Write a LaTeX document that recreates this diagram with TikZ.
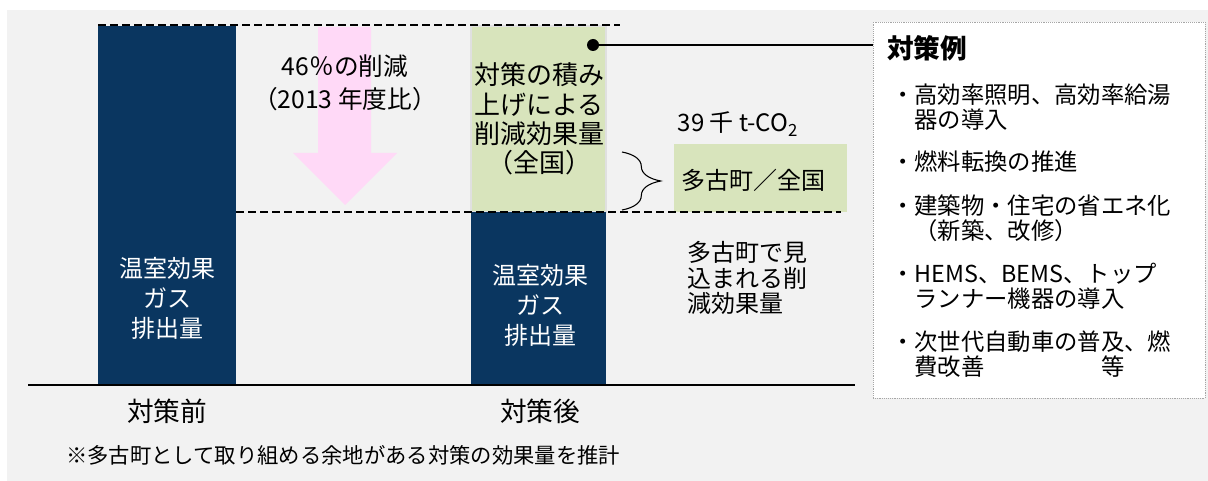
\documentclass[tikz,border=0pt]{standalone}
\usepackage{xcolor}
\usepackage{fontspec}
\setmainfont{Noto Sans CJK JP}
\usepackage{tikz}
\usetikzlibrary{calc}
\usetikzlibrary{positioning}
\usetikzlibrary{decorations.pathreplacing}
\definecolor{navy}{RGB}{10,54,96}
\definecolor{leaf}{RGB}{216,228,188}
\definecolor{blush}{RGB}{255,217,247}
\definecolor{paper}{RGB}{242,242,242}
\tikzstyle{txt} = [rectangle, draw=none, inner sep=0pt, align=center]
\tikzstyle{lefttxt} = [rectangle, draw=none, inner sep=0pt, align=left, anchor=west]
\tikzstyle{cut} = [dashed, dash pattern=on 6pt off 3pt, line width=1.6pt]
\newcommand{\fs}[2]{\fontsize{#1}{#2}\selectfont}

\begin{document}
\begin{tikzpicture}[x=0.75pt, y=-0.75pt]
\useasboundingbox (0, 0) rectangle (1208, 481);
\fill [paper] (7, 10) rectangle (1208, 481);
% bars and reduction arrow
\fill [navy] (98, 26) rectangle (236, 385);
\filldraw [fill=leaf, draw=black!12, line width=1.2pt] (471, 26) rectangle (606, 212);
\fill [navy] (471, 212) rectangle (606, 385);
\fill [blush] (318, 27) -- (371, 27) -- (371, 153) -- (397, 153) -- (345, 205)
  -- (293, 153) -- (318, 153) -- cycle;
\fill [leaf] (674, 144) rectangle (847, 212);
\draw [cut] (98, 25) -- (620, 25);
\draw [cut] (236, 212) -- (841, 212);
\draw [line width=2.2pt] (28, 385) -- (855, 385);
\node [txt, text=white, font=\fs{18}{22.5}] (G1) at (167, 298) {温室効果\\ガス\\排出量};
\node [txt, text=white, font=\fs{18}{22.5}] (G2) at (540, 305) {温室効果\\ガス\\排出量};
\node [txt, font=\fs{18.5}{24.75}] (R46) at (345, 83) {46％の削減\\（2013 年度比）};
\node [txt, font=\fs{19.5}{22}] (NAT) at (539, 119) {対策の積み\\上げによる\\削減効果量\\（全国）};
\node [txt, font=\fs{20}{24}] (PRE) at (167, 411) {対策前};
\node [txt, font=\fs{20}{24}] (POST) at (540, 411) {対策後};
\node [lefttxt, font=\fs{16}{20}] (NOTE) at (66, 455) {※多古町として取り組める余地がある対策の効果量を推計};
\node [txt, font=\fs{18}{22}] (AMT) at (738, 124) {39 千 t-CO\textsubscript{2}};
\node [lefttxt, font=\fs{18}{22}] (SHR) at (681, 180) {多古町／全国};
\node [lefttxt, font=\fs{18}{19}] (TOWN) at (687, 278) {多古町で見\\込まれる削\\減効果量};
\draw [decorate, decoration={brace, amplitude=29pt}, line width=0.8pt] (622, 152) -- (622, 210);
\node [rectangle, draw=black!35, densely dotted, fill=white, inner sep=0pt,
  minimum width=249pt, minimum height=282pt] (CASES) at (1039, 210) {};
\node [circle, fill=black, inner sep=0pt, minimum size=9pt] (DOT) at (593, 45) {};
\draw [line width=1pt] (DOT) -- (DOT -| CASES.west);
\node [lefttxt, font=\bfseries\fs{20}{24}] (TTL) at (887, 48) {対策例};
\node [lefttxt, font=\fs{17.5}{18.5}] (C1) at (891, 107) {・高効率照明、高効率給湯\\\hspace*{1em}器の導入};
\node [lefttxt, font=\fs{17.5}{18.5}] (C2) at (891, 162) {・燃料転換の推進};
\node [lefttxt, font=\fs{17.5}{18.5}] (C3) at (891, 218) {・建築物・住宅の省エネ化\\\hspace*{1em}（新築、改修）};
\node [lefttxt, font=\fs{17.5}{18.5}] (C4) at (891, 286) {・HEMS、BEMS、トップ\\\hspace*{1em}ランナー機器の導入};
\node [lefttxt, font=\fs{17.5}{18.5}] (C5) at (891, 354) {・次世代自動車の普及、燃\\\hspace*{1em}費改善　　　　　等};
\end{tikzpicture}
\end{document}
